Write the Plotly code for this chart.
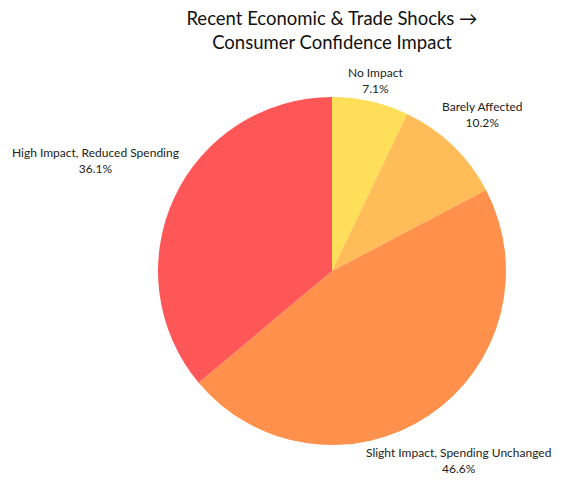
import numpy as np
import plotly.graph_objects as go

# consumer confidence survey shares
labels = ["No Impact", "Barely Affected", "Slight Impact, Spending Unchanged",
          "High Impact, Reduced Spending"]
values = [7.1, 10.2, 46.6, 36.1]
colors = ["#FFDE59", "#FFBD59", "#FF914D", "#FF5757"]

FONT = 12
PIE_PX = 348  # plot area is square, pie fills it
fig = go.Figure()
fig.add_trace(go.Pie(
    labels=labels,
    values=values,
    sort=False,
    direction="clockwise",
    rotation=0,
    marker=dict(colors=colors),
    textinfo="none",
    automargin=False,
    showlegend=False,
    hovertemplate="%{label}<br>%{percent:.1%}<extra></extra>",
))

# labels sit outside the pie, centred on each slice's mid-angle
vals = np.array(values, dtype=float)
frac = vals / vals.sum()
theta = 2 * np.pi * (np.cumsum(frac) - frac / 2)
R = PIE_PX / 2 + 3
annotations = []
for lab, f, th in zip(labels, frac, theta):
    ux, uy = np.sin(th), np.cos(th)
    a = 0.25 * FONT * len(lab) + 1   # half text width (estimate)
    b = 14                            # half height of two lines
    t = R
    while True:
        dx = max(0.0, abs(t * ux) - a)
        dy = max(0.0, abs(t * uy) - b)
        if np.hypot(dx, dy) >= R:
            break
        t += 0.5
    annotations.append(dict(
        text=f"{lab}<br>{f * 100:.1f}%",
        x=0.5 + t * ux / PIE_PX, y=0.5 + t * uy / PIE_PX,
        xref="paper", yref="paper", xanchor="center", yanchor="middle",
        showarrow=False, font=dict(size=FONT, color="#222"),
    ))

fig.update_layout(
    width=567, height=483,
    font=dict(family="Lato, sans-serif"),
    title=dict(text="Recent Economic & Trade Shocks →<br>Consumer Confidence Impact",
               x=0.5, xref="paper", xanchor="center", y=0.965, yanchor="top",
               font=dict(size=18.5, color="#111")),
    margin=dict(l=150, r=69, t=89, b=46),
    paper_bgcolor="white",
    annotations=annotations,
)

fig.write_html("out.html")
